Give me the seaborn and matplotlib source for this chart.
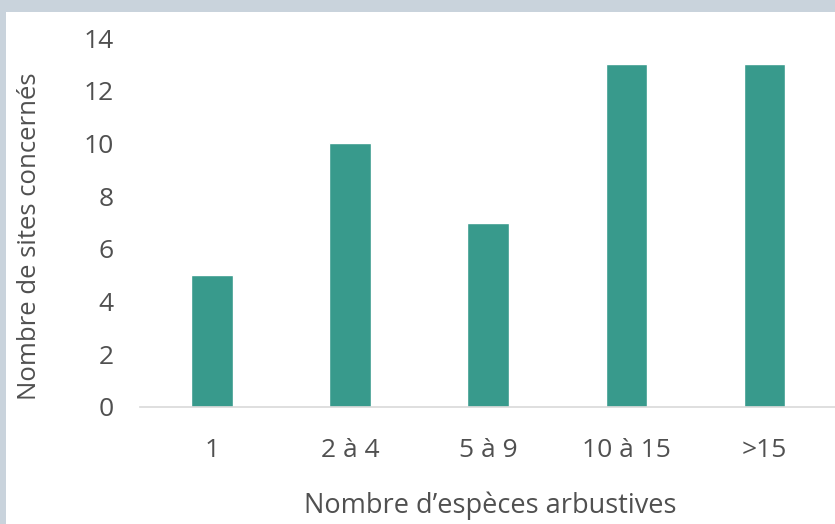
import matplotlib
matplotlib.use("Agg")
import matplotlib.pyplot as plt
import seaborn as sns
import pandas as pd
from matplotlib.patches import Rectangle

categories = ["1", "2 à 4", "5 à 9", "10 à 15", ">15"]
values = [5, 10, 7, 13, 13]
yticks = [0, 2, 4, 6, 8, 10, 12, 14]

df = pd.DataFrame({"cat": categories, "val": values})

sns.set_theme(style="white")
plt.rcParams["font.family"] = ["Open Sans", "DejaVu Sans"]

W, H = 835, 524
fig = plt.figure(figsize=(W / 100, H / 100), dpi=100)
fig.patch.set_facecolor("#c9d3dc")
fig.patches.append(Rectangle((6 / W, 0), 1, (H - 12) / H, transform=fig.transFigure,
                             facecolor="white", edgecolor="none", zorder=-10))

left, bottom, top = 140, 407, 38
ax = fig.add_axes([left / W, (H - bottom) / H, (W - left) / W, (bottom - top) / H])
ax.set_facecolor("none")
sns.barplot(data=df, x="cat", y="val", color="#389a8c", width=0.30, saturation=1, ax=ax)

ax.set_ylim(0, 14)
ax.set_xlim(-0.52, 4.51)
ax.set_yticks(yticks)
ax.set_yticklabels([str(t) for t in yticks])
for s in ["top", "right", "left"]:
    ax.spines[s].set_visible(False)
ax.spines["bottom"].set_color("#d9d9d9")
ax.spines["bottom"].set_linewidth(1.2)
txt = "#505050"
ax.tick_params(axis="both", length=0, labelsize=19, colors=txt)
ax.tick_params(axis="x", pad=22)
ax.tick_params(axis="y", pad=19)
ax.set_xlabel("Nombre d\u2019espèces arbustives", fontsize=19.5, color=txt)
ax.set_ylabel("Nombre de sites concernés", fontsize=18.5, color=txt)
# label centres: x label at (490, 507) px, y label at (30, 236) px
ax.xaxis.set_label_coords((490 - left) / (W - left), -(506 - bottom) / (bottom - top))
ax.xaxis.label.set_va("center")
ax.yaxis.set_label_coords((30 - left) / (W - left), (bottom - 236) / (bottom - top))
ax.yaxis.label.set_va("center")

fig.savefig("out.png", dpi=100, facecolor=fig.get_facecolor())
